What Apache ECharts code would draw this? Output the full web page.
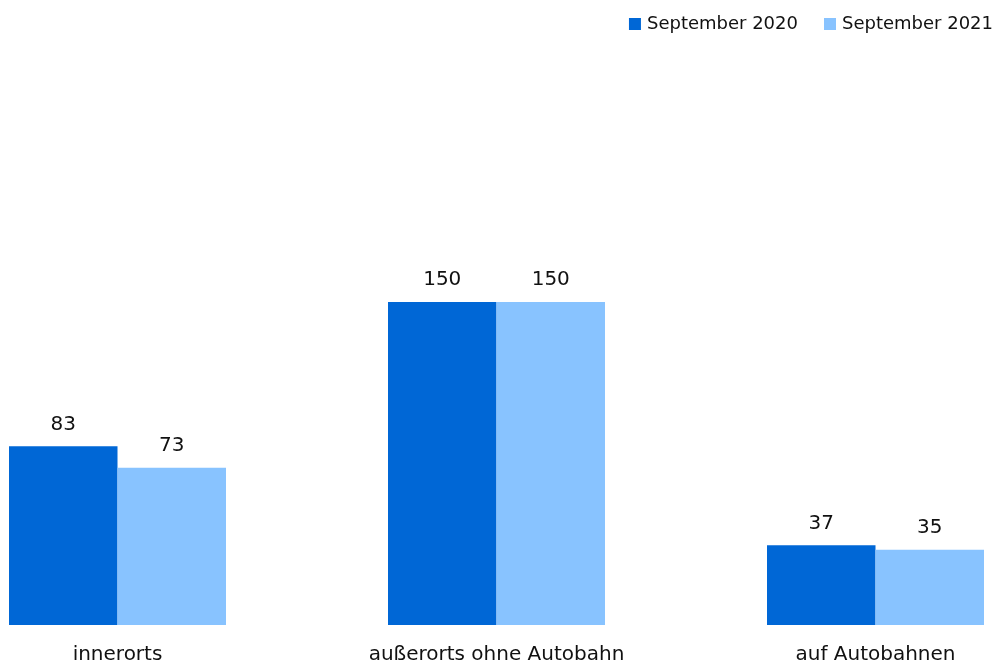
<!DOCTYPE html>
<html><head><meta charset="utf-8">
<script src="https://cdn.jsdelivr.net/npm/echarts@6/dist/echarts.min.js"></script>
<style>html,body{margin:0;padding:0;background:#fff}#c{width:996px;height:666px}</style>
</head><body><div id="c"></div>
<script>
const categories = ['innerorts', 'außerorts ohne Autobahn', 'auf Autobahnen'];
const seriesNames = ['September 2020', 'September 2021'];
const values2020 = [83, 150, 37];
const values2021 = [73, 150, 35];

const chart = echarts.init(document.getElementById('c'));
const font = 'DejaVu Sans';
chart.setOption({
  animation: false,
  textStyle: { fontFamily: font },
  legend: {
    top: 10, right: -2,
    itemWidth: 12, itemHeight: 12, itemGap: 26,
    icon: 'rect',
    textStyle: { fontSize: 18, color: '#111', fontFamily: font, padding: [0, 0, 0, 1] },
    data: seriesNames
  },
  grid: { left: 117.5, right: 120.5, top: 194.4, bottom: 41 },
  xAxis: {
    type: 'category', data: categories, boundaryGap: false,
    axisLine: { show: false }, axisTick: { show: false },
    axisLabel: { fontSize: 20, color: '#111', margin: 20, fontFamily: font }
  },
  yAxis: { type: 'value', min: 0, max: 200, show: false, splitLine: { show: false } },
  series: [
    { name: seriesNames[0], type: 'bar', data: values2020, barWidth: 108.5, barGap: '0%',
      itemStyle: { color: '#0067D6' },
      label: { show: true, position: 'top', distance: 12, fontSize: 20, color: '#111', fontFamily: font } },
    { name: seriesNames[1], type: 'bar', data: values2021, barWidth: 108.5, barGap: '0%',
      itemStyle: { color: '#88C3FF' },
      label: { show: true, position: 'top', distance: 12, fontSize: 20, color: '#111', fontFamily: font } }
  ]
});
</script></body></html>
